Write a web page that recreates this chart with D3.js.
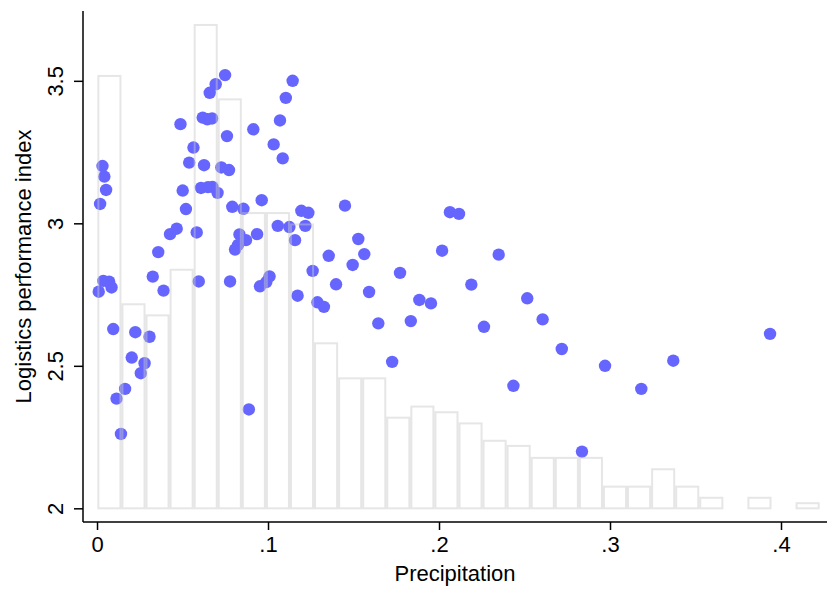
<!DOCTYPE html>
<html lang="en">
<head>
<meta charset="UTF-8">
<title>Logistics performance vs precipitation</title>
<script src="https://d3js.org/d3.v7.min.js"></script>
<style>
  body{margin:0;background:#fff}
  svg{display:block;font-family:"Liberation Sans",Arial,Helvetica,sans-serif}
  .axis path,.axis line{stroke:#000;stroke-width:1.5px}
  .axis text{font-size:22px;fill:#000}
  .title{font-size:22px;fill:#000;text-anchor:middle}
  .bin{fill:none;stroke:#c8c8c8;stroke-opacity:.45;stroke-width:2px}
  .dot{fill:#6666ff}
</style>
</head>
<body>
<div id="chart"></div>
<script>
/* --- data --- */
const precipitation=[
  0.001,0.0018,0.0032,0.0043,0.0053,0.0037,0.0071,0.0085,0.0095,0.0114,
  0.0140,0.0164,0.0203,0.0224,0.0256,0.0278,0.0307,0.0326,0.0358,0.0389,
  0.0427,0.0466,0.0488,0.0501,0.0520,0.0539,0.0564,0.0583,0.0595,0.0608,
  0.0649,0.0675,0.0705,0.0618,0.0645,0.0673,0.0626,0.0659,0.0694,0.0749,
  0.0727,0.0772,0.0760,0.0778,0.0791,0.0856,0.0833,0.0871,0.0825,0.0807,
  0.0888,0.0914,0.0936,0.0963,0.0953,0.0990,0.1009,0.1033,0.1070,0.1086,
  0.1104,0.1144,0.1057,0.1125,0.1218,0.1158,0.1173,0.1195,0.1236,0.1261,
  0.1289,0.1327,0.1355,0.1398,0.1450,0.1495,0.1528,0.1563,0.1591,0.1645,
  0.1726,0.1772,0.1835,0.1885,0.1953,0.2018,0.2064,0.2117,0.2189,0.2263,
  0.2349,0.2435,0.2516,0.2606,0.2718,0.2836,0.2971,0.3183,0.3370,0.3936];
const lpi=[
  2.760,3.068,3.201,3.164,3.117,2.798,2.795,2.775,2.629,2.385,
  2.261,2.419,2.529,2.618,2.474,2.509,2.602,2.813,2.899,2.764,
  2.962,2.981,3.348,3.115,3.050,3.213,3.266,2.968,2.796,3.124,
  3.127,3.128,3.107,3.371,3.365,3.368,3.204,3.458,3.488,3.520,
  3.196,3.187,3.306,2.796,3.058,3.051,2.961,2.941,2.924,2.908,
  2.347,3.330,2.962,3.081,2.779,2.794,2.814,3.277,3.361,3.228,
  3.440,3.500,2.991,2.987,2.991,2.941,2.746,3.044,3.037,2.833,
  2.723,2.707,2.886,2.786,3.062,2.854,2.945,2.892,2.759,2.649,
  2.514,2.826,2.657,2.731,2.719,2.904,3.039,3.033,2.785,2.637,
  2.890,2.430,2.737,2.663,2.559,2.199,2.500,2.419,2.518,2.612];

// histogram of precipitation, bar tops read on the LPI scale (base = 2)
const histStart=0.0002, histWidth=0.01408, histBase=2;
const histTops=[
  3.517,2.716,2.677,2.837,3.696,3.435,3.036,3.036,2.996,2.579,
  2.456,2.456,2.318,2.357,2.337,2.298,2.237,2.219,2.177,2.177,
  2.177,2.076,2.076,2.137,2.076,2.037,null,2.037,null,2.018];

const xTicks=[0,0.1,0.2,0.3,0.4], xTickLabels=["0",".1",".2",".3",".4"];
const yTicks=[2,2.5,3,3.5],      yTickLabels=["2","2.5","3","3.5"];

/* --- layout --- */
const W=827,H=589,
      m={left:83,top:11,right:827,bottom:522};

const x=d3.scaleLinear().domain([-0.0082,0.4269]).range([m.left,m.right]);
const y=d3.scaleLinear().domain([1.952,3.745]).range([m.bottom,m.top]);

const svg=d3.select("#chart").append("svg").attr("width",W).attr("height",H);

/* --- scatter --- */
svg.append("g").selectAll("circle")
   .data(d3.zip(precipitation,lpi))
   .join("circle").attr("class","dot")
   .attr("cx",d=>x(d[0])).attr("cy",d=>y(d[1])).attr("r",6.2);

/* --- histogram outline (drawn over the dots) --- */
const bins=histTops.map((t,i)=>({x0:histStart+i*histWidth,x1:histStart+(i+1)*histWidth,top:t}))
                   .filter(b=>b.top!=null&&b.top>histBase);
svg.append("g").selectAll("rect")
   .data(bins)
   .join("rect").attr("class","bin")
   .attr("x",d=>x(d.x0)+1)
   .attr("width",d=>x(d.x1)-x(d.x0)-2)
   .attr("y",d=>y(d.top))
   .attr("height",d=>y(histBase)-y(d.top));

/* --- axes --- */
const gx=svg.append("g").attr("class","axis")
   .attr("transform",`translate(0,${m.bottom})`)
   .call(d3.axisBottom(x).tickValues(xTicks)
          .tickFormat((d,i)=>xTickLabels[i]).tickSize(8).tickPadding(6).tickSizeOuter(0));
gx.select(".domain").attr("d",`M${m.left},0H${m.right}`);

const gy=svg.append("g").attr("class","axis")
   .attr("transform",`translate(${m.left},0)`)
   .call(d3.axisLeft(y).tickValues(yTicks)
          .tickFormat((d,i)=>yTickLabels[i]).tickSize(9).tickSizeOuter(0));
gy.select(".domain").attr("d",`M0,${m.top}V${m.bottom}`);
gy.selectAll(".tick text")
  .attr("x",0).attr("dy",0)
  .attr("transform","translate(-20,0) rotate(-90)")
  .attr("text-anchor","middle");

/* --- titles --- */
svg.append("text").attr("class","title")
   .attr("x",(m.left+m.right)/2).attr("y",581)
   .text("Precipitation");
svg.append("text").attr("class","title")
   .attr("transform",`translate(31,${(m.top+m.bottom)/2}) rotate(-90)`)
   .text("Logistics performance index");
</script>
</body>
</html>
